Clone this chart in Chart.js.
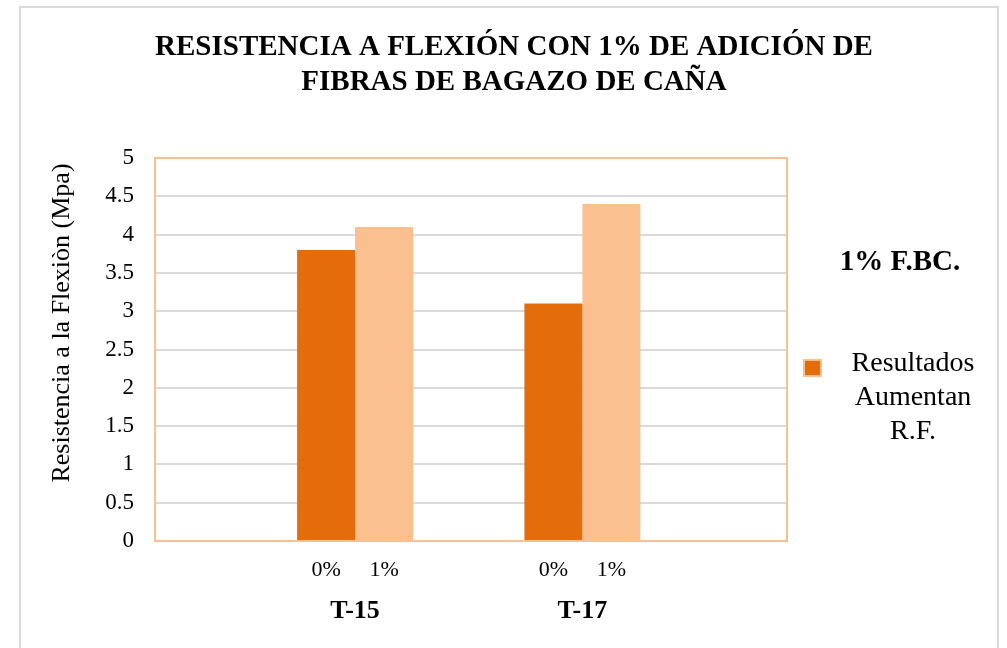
<!DOCTYPE html>
<html lang="es">
<head>
    <meta charset="UTF-8">
    <script src="https://cdn.jsdelivr.net/npm/chart.js"></script>
    <title>Resistencia a flexión</title>
    <style>
        body{ margin: 0; background: #fff; }
        .container{
            position: relative; width: 1007px; height: 648px;
        }
        .frame{
            position: absolute; left: 19px; top: 6px; width: 980px; height: 700px;
            border: 2px solid #d9d9d9; box-sizing: border-box;
        }
        canvas{ position: absolute; left: 0; top: 0; }
    </style>
</head>
<body>
    <div class="container">
        <div class="frame"></div>
        <canvas id="myChart" width="1007" height="648"></canvas>
    </div>
<script>
    // probetas y porcentaje de fibra
    const grupos = ['T-15', 'T-17'];
    const porcentajes = ['0%', '1%'];
    const valores0 = [3.8, 3.1];   // 0% fibra
    const valores1 = [4.1, 4.4];   // 1% fibra
    const yTicks = [0, 0.5, 1, 1.5, 2, 2.5, 3, 3.5, 4, 4.5, 5];

    const titulo = ['RESISTENCIA A FLEXIÓN CON 1% DE ADICIÓN DE', 'FIBRAS DE BAGAZO DE CAÑA'];
    const tituloY = 'Resistencia a la Flexiòn (Mpa)';
    const leyendaTitulo = '1% F.BC.';
    const leyendaTexto = ['Resultados', 'Aumentan', 'R.F.'];

    const naranja = '#e46c0a';
    const naranjaClaro = '#fac090';
    const serif = "'Liberation Serif', 'Times New Roman', serif";

    function puntos(arr){
        return arr.map(function(v, i){ return {x: i + 1, y: v}; });
    }

    // títulos: general arriba y del eje Y girado
    const titulos = {
        id: 'titulos',
        afterDraw(chart){
            const ctx = chart.ctx;
            ctx.save();
            ctx.fillStyle = '#000';
            ctx.textAlign = 'center';
            ctx.textBaseline = 'middle';
            ctx.font = 'bold 29px ' + serif;
            titulo.forEach(function(t, i){
                ctx.fillText(t, 514, 48 + i * 35);
            });
            ctx.translate(62, 323);
            ctx.rotate(-Math.PI / 2);
            ctx.font = '26px ' + serif;
            ctx.fillText(tituloY, 0, 0);
            ctx.restore();
        }
    };

    // etiquetas 0% / 1% bajo cada barra y nombre de la probeta debajo
    const etiquetasX = {
        id: 'etiquetasX',
        afterDraw(chart){
            const ctx = chart.ctx;
            const metas = [chart.getDatasetMeta(0), chart.getDatasetMeta(1)];
            ctx.save();
            ctx.fillStyle = '#000';
            ctx.textAlign = 'center';
            ctx.textBaseline = 'middle';
            ctx.font = '22px ' + serif;
            metas.forEach(function(m, d){
                m.data.forEach(function(bar){
                    ctx.fillText(porcentajes[d], bar.x, 570);
                });
            });
            ctx.font = 'bold 26px ' + serif;
            grupos.forEach(function(g, i){
                const cx = (metas[0].data[i].x + metas[1].data[i].x) / 2;
                ctx.fillText(g, cx, 611);
            });
            ctx.restore();
        }
    };

    // marco del área de trazado
    const marco = {
        id: 'marco',
        afterDatasetsDraw(chart){
            const a = chart.chartArea;
            const ctx = chart.ctx;
            ctx.save();
            ctx.strokeStyle = naranjaClaro;
            ctx.lineWidth = 2;
            ctx.strokeRect(a.left, a.top, a.right - a.left, a.bottom - a.top);
            ctx.restore();
        }
    };

    // leyenda a la derecha
    const leyenda = {
        id: 'leyenda',
        afterDraw(chart){
            const ctx = chart.ctx;
            ctx.save();
            ctx.fillStyle = '#000';
            ctx.textAlign = 'center';
            ctx.textBaseline = 'middle';
            ctx.font = 'bold 29px ' + serif;
            ctx.fillText(leyendaTitulo, 900, 263);
            ctx.fillStyle = naranja;
            ctx.strokeStyle = naranjaClaro;
            ctx.lineWidth = 2;
            ctx.fillRect(804, 360, 17, 16);
            ctx.strokeRect(804, 360, 17, 16);
            ctx.fillStyle = '#000';
            ctx.font = '28px ' + serif;
            leyendaTexto.forEach(function(t, i){
                ctx.fillText(t, 913, 364 + i * 34);
            });
            ctx.restore();
        }
    };

    const config = {
        type: 'bar',
        data: {
            datasets: [{
                label: porcentajes[0],
                data: puntos(valores0),
                backgroundColor: naranja,
                categoryPercentage: 0.51,
                barPercentage: 1
            }, {
                label: porcentajes[1],
                data: puntos(valores1),
                backgroundColor: naranjaClaro,
                categoryPercentage: 0.51,
                barPercentage: 1
            }]
        },
        options: {
            responsive: false,
            animation: false,
            layout: { padding: { left: 0, right: 220, top: 158, bottom: 0 } },
            plugins: {
                legend: { display: false },
                tooltip: { enabled: false },
                title: { display: false }
            },
            scales: {
                x: {
                    type: 'linear',
                    min: 0.12,
                    max: 2.9,
                    offset: false,
                    afterBuildTicks(scale){
                        scale.ticks = grupos.map(function(g, i){ return {value: i + 1}; });
                    },
                    ticks: { display: false },
                    grid: { display: false, offset: false },
                    border: { color: naranjaClaro, width: 2 },
                    afterFit(scale){ scale.height = 107; }
                },
                y: {
                    min: 0,
                    max: 5,
                    afterBuildTicks(scale){
                        scale.ticks = yTicks.map(function(v){ return {value: v}; });
                    },
                    ticks: {
                        color: '#000',
                        padding: 21,
                        font: { family: serif, size: 23 },
                        callback: function(v){ return String(v); }
                    },
                    grid: { color: '#d9d9d9', lineWidth: 2, drawTicks: false },
                    border: { color: naranjaClaro, width: 2 },
                    afterFit(scale){ scale.width = 155; }
                }
            }
        },
        plugins: [marco, titulos, etiquetasX, leyenda]
    };

    new Chart(document.getElementById('myChart'), config);
</script>
</body>
</html>
